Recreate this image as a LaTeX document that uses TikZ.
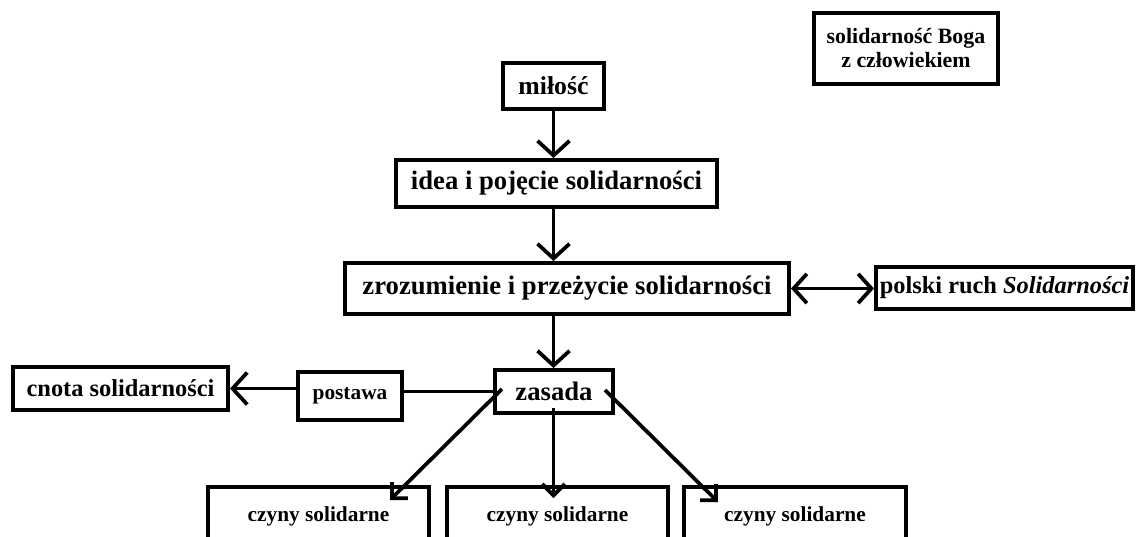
\documentclass[tikz,border=0pt]{standalone}
\usepackage{fontspec}
\setmainfont{Liberation Serif}
\usetikzlibrary{arrows.meta}

\tikzset{every picture/.style={line width=0.75pt}}
\tikzset{
  box/.style={draw, line width=3pt, inner sep=0pt, align=center, font=\bfseries},
  arr/.style={line width=2.8pt, -{Straight Barb[length=11pt,width=24pt]}},
  arrboth/.style={line width=2.8pt, {Straight Barb[length=10pt,width=22pt]}-{Straight Barb[length=10pt,width=22pt]}},
  arrsmall/.style={line width=2.8pt, -{Straight Barb[length=8.5pt,width=17pt]}},
}

\begin{document}
\begin{tikzpicture}[x=0.75pt,y=0.75pt,yscale=-1,xscale=1]
	\useasboundingbox (0,0) rectangle (1136,536);
	\clip (0,0) rectangle (1136,536);

	% Boxes
	\node [box, minimum width=138pt, minimum height=53.25pt, font=\bfseries\fontsize{16.4}{18}\selectfont] (boga) at (906,48.5) {solidarność Boga\\z człowiekiem};
	\node [box, minimum width=75.75pt, minimum height=34.5pt, font=\bfseries\fontsize{19.3}{22}\selectfont] (milosc) at (553.5,86) {miłość};
	\node [box, minimum width=240.75pt, minimum height=35.25pt, font=\bfseries\fontsize{20}{24}\selectfont] (idea) at (556.5,183.5) {idea i pojęcie solidarności};
	\node [box, minimum width=333pt, minimum height=38.25pt, font=\bfseries\fontsize{20}{24}\selectfont] (zroz) at (567,288.5) {zrozumienie i przeżycie solidarności};
	\node [box, minimum width=192.75pt, minimum height=31.5pt, font=\bfseries\fontsize{18.3}{22}\selectfont] (ruch) at (1004.5,288) {polski ruch \textit{Solidarności}};
	\node [box, minimum width=88.5pt, minimum height=32.25pt, font=\bfseries\fontsize{20}{24}\selectfont] (zasada) at (554,391.5) {zasada};
	\node [box, minimum width=78pt, minimum height=36pt, font=\bfseries\fontsize{16}{19}\selectfont] (postawa) at (350,396) {postawa};
	\node [box, minimum width=161.25pt, minimum height=32.25pt, font=\bfseries\fontsize{18.3}{22}\selectfont] (cnota) at (120.5,388.5) {cnota solidarności};
	\node [box, minimum width=165.75pt, minimum height=43.5pt, font=\bfseries\fontsize{16}{19}\selectfont] (czyny1) at (318.5,516) {czyny solidarne};
	\node [box, minimum width=165.75pt, minimum height=43.5pt, font=\bfseries\fontsize{16}{19}\selectfont] (czyny2) at (557.5,516) {czyny solidarne};
	\node [box, minimum width=166.5pt, minimum height=43.5pt, font=\bfseries\fontsize{16}{19}\selectfont] (czyny3) at (795,516) {czyny solidarne};

	% Main column
	\draw [arr] (milosc.south) -- (milosc.south |- idea.north);
	\draw [arr] (idea.south -| milosc.south) -- (milosc.south |- zroz.north);
	\draw [arr] (zroz.south -| milosc.south) -- (milosc.south |- zasada.north);
	\draw [arrboth] (zroz.east) -- (zroz.east -| ruch.west);

	% Left branch
	\draw [line width=2.8pt] (zasada.west) -- (zasada.west -| postawa.east);
	\draw [arr] (cnota.east -| postawa.west) -- (cnota.east);

	% Lower arrows, they start inside zasada
	\coordinate (s1) at (502,389);
	\coordinate (s2) at (553.5,408);
	\coordinate (s3) at (605,390);
	\coordinate (e1) at (390,500);
	\coordinate (e2) at (553.5,498);
	\coordinate (e3) at (718,502);
	\draw [arrsmall] (s1) -- (e1);
	\draw [arrsmall] (s2) -- (e2);
	\draw [arrsmall] (s3) -- (e3);

\end{tikzpicture}
\end{document}
